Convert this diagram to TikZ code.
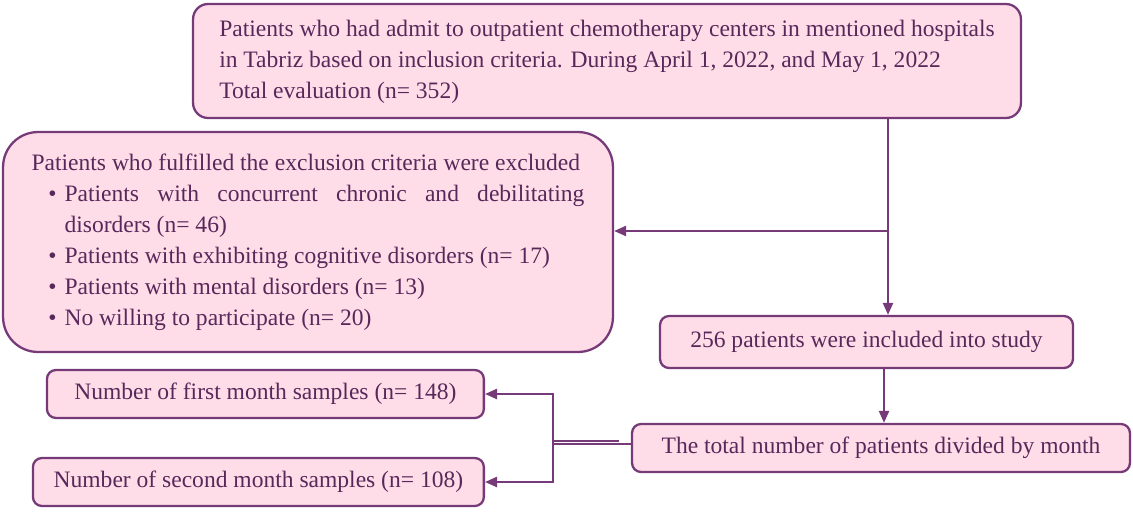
\documentclass[tikz,border=0pt]{standalone}
\usepackage{fontspec}
\setmainfont{Liberation Serif}
\usepackage{enumitem}
\usetikzlibrary{arrows.meta}

\definecolor{boxfill}{RGB}{255,221,232}
\definecolor{boxline}{RGB}{118,58,120}
\definecolor{boxtext}{RGB}{88,40,90}

\tikzset{
  flowbox/.style={draw=boxline, fill=boxfill, line width=1.3pt, rounded corners=0.18cm,
    text=boxtext, font=\fontsize{13.4pt}{17.6pt}\selectfont, inner sep=2pt},
  flowline/.style={draw=boxline, line width=1.3pt},
  flowarrow/.style={flowline, -{Triangle[length=0.24cm,width=0.2cm]}}
}

\begin{document}
\begin{tikzpicture}[x=0.02cm, y=-0.02cm]
\useasboundingbox (0,0) rectangle (1133,511);

\node[flowbox, rounded corners=0.3cm, minimum width=16.56cm, minimum height=2.28cm, align=left] (admit) at (607,61)
  {\rule{0pt}{10pt}Patients who had admit to outpatient chemotherapy centers in mentioned hospitals\\
   in Tabriz based on inclusion criteria. During April 1, 2022, and May 1, 2022\\
   Total evaluation (n= 352)};

\node[flowbox, rounded corners=0.7cm, minimum width=12.2cm, minimum height=4.4cm, text width=11.06cm, align=justify] (excluded) at (308,242)
  {\mbox{Patients who fulfilled the exclusion criteria were excluded}
   \begin{itemize}[leftmargin=0.66cm, labelsep=0.16cm, itemsep=0pt, topsep=0pt, parsep=0pt, label={\textbullet}]
   \item Patients with concurrent chronic and debilitating\linebreak disorders (n= 46)
   \item Patients with exhibiting cognitive disorders (n= 17)
   \item Patients with mental disorders (n= 13)
   \item No willing to participate (n= 20)
   \end{itemize}};

\node[flowbox, minimum width=8.26cm, minimum height=1.04cm] (included) at (866.5,342) {256 patients were included into study};
\node[flowbox, minimum width=9.96cm, minimum height=0.96cm] (bymonth) at (881,448) {The total number of patients divided by month};
\node[flowbox, anchor=east, minimum width=8.74cm, minimum height=0.96cm] (first) at (485,394) {Number of first month samples (n= 148)};
\node[flowbox, anchor=east, minimum width=9.02cm, minimum height=0.96cm] (second) at (485,482) {Number of second month samples (n= 108)};

% connectors
\coordinate (split) at (888,231);
\coordinate (down) at (884,395);
\coordinate (fork) at (553,444);
\coordinate (forkend) at (619,441);

\draw[flowarrow] (admit.south -| split) -- (included.north -| split);
\draw[flowarrow] (split) -- (excluded.east |- split);
\draw[flowarrow] (included.south -| down) -- (bymonth.north -| down);
\draw[flowline] (bymonth.west |- fork) -- (fork);
\draw[flowline] (fork |- forkend) -- (forkend);
\draw[flowarrow] (fork) |- (first.east);
\draw[flowarrow] (fork) |- (second.east);
\end{tikzpicture}
\end{document}
